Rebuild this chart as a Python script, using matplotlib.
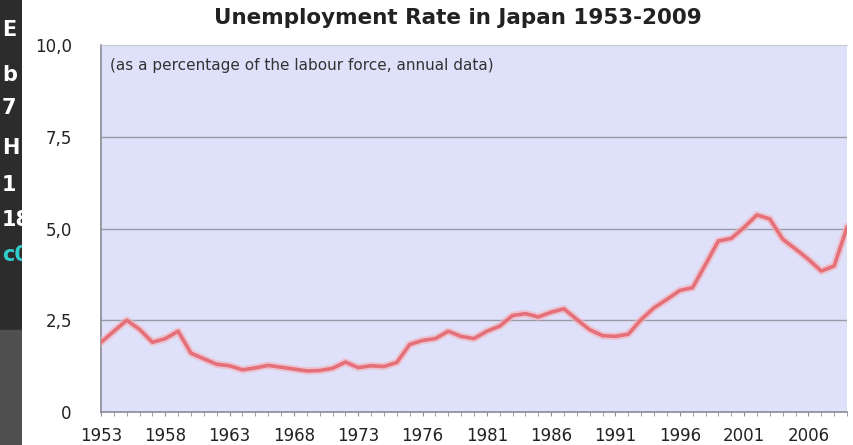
import matplotlib
matplotlib.use("Agg")
from matplotlib import pyplot as plt
import matplotlib.patches as mpatches

# categories as they appear on the source chart (one point per category)
tick_labels = ['1953', '1958', '1963', '1968', '1973', '1976',
               '1981', '1986', '1991', '1996', '2001', '2006']
rate = [1.9, 2.2, 2.5, 2.25, 1.9, 2.0, 2.2, 1.6, 1.45, 1.3,
        1.26, 1.15, 1.2, 1.27, 1.22, 1.17, 1.12, 1.13, 1.19, 1.36,
        1.21, 1.26, 1.24, 1.35, 1.84, 1.95, 2.0, 2.2, 2.06, 2.0,
        2.2, 2.34, 2.63, 2.68, 2.59, 2.72, 2.81, 2.52, 2.24, 2.08,
        2.06, 2.12, 2.52, 2.84, 3.07, 3.31, 3.39, 4.02, 4.66, 4.73,
        5.03, 5.37, 5.26, 4.71, 4.44, 4.16, 3.84, 3.98, 5.03]
y_ticks = [0, 2.5, 5.0, 7.5, 10.0]
y_labels = ['0', '2,5', '5,0', '7,5', '10,0']

W, H = 854, 445
fig = plt.figure(figsize=(W / 100, H / 100), dpi=100)
fig.patch.set_facecolor('white')

ax = fig.add_axes([101 / W, 33 / H, 746 / W, 367 / H])
ax.set_facecolor('#dfe1fb')
x = list(range(len(rate)))

ax.plot(x, rate, color='#f4b0b4', lw=5.5, alpha=0.6, solid_joinstyle='round', zorder=3)
ax.plot(x, rate, color='#e5707a', lw=2.6, solid_joinstyle='round', zorder=4)

ax.set_xlim(0, len(rate) - 1)
ax.set_ylim(0, 10)
ax.set_yticks(y_ticks)
ax.set_yticklabels(y_labels)
ax.set_xticks(range(0, len(rate), 5))
ax.set_xticklabels(tick_labels)
ax.set_xticks(x, minor=True)

for yv in y_ticks[1:-1]:
    ax.axhline(yv, color='#9a9aa6', lw=1.0, zorder=2)

ax.spines['right'].set_visible(False)
ax.spines['top'].set_color('#c8c8d0')
ax.spines['left'].set_color('#8a8a95')
ax.spines['bottom'].set_color('#8a8a95')
ax.spines['left'].set_linewidth(1.2)
ax.spines['bottom'].set_linewidth(1.2)

ax.tick_params(axis='y', length=0, pad=21, labelsize=12, labelcolor='#222222')
ax.tick_params(axis='x', which='both', direction='out', length=3, color='#8a8a95',
               pad=8, labelsize=12, labelcolor='#222222')

ax.text(0.012, 0.965, '(as a percentage of the labour force, annual data)',
        transform=ax.transAxes, fontsize=11, color='#333333', va='top', ha='left')

fig.text(458 / W, 1 - 18 / H, 'Unemployment Rate in Japan 1953-2009',
         ha='center', va='center', fontsize=15.5, fontweight='bold', color='#222222')

# dark strip left over from the surrounding slide
strip = fig.add_axes([0, 0, 22 / W, 1])
strip.set_xlim(0, 22)
strip.set_ylim(H, 0)
strip.axis('off')
strip.add_patch(mpatches.Rectangle((0, 0), 22, 330, color='#2c2c2c'))
strip.add_patch(mpatches.Rectangle((0, 330), 22, H - 330, color='#505050'))
for ty, tt, tc in [(30, 'E', 'white'), (75, 'b', 'white'), (108, '7', 'white'),
                   (148, 'H', 'white'), (185, '1', 'white'), (220, '18', 'white'),
                   (255, 'c0', '#33cccc')]:
    strip.text(2, ty, tt, color=tc, fontsize=15, fontweight='bold',
               va='center', ha='left', clip_on=True)

fig.savefig('out.png', dpi=100)
